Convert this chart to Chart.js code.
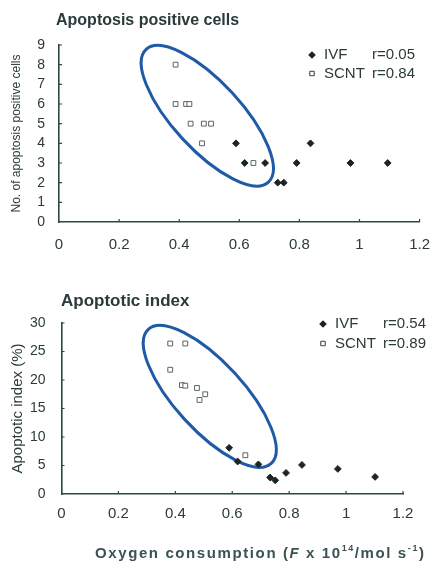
<!DOCTYPE html>
<html>
<head>
<meta charset="utf-8">
<script src="https://cdn.jsdelivr.net/npm/chart.js@4.4.1/dist/chart.umd.min.js"></script>
<style>
  html, body { margin: 0; padding: 0; background: #fff; }
  #wrap { position: relative; width: 436px; height: 565px; overflow: hidden; }
  canvas { position: absolute; left: 0; }
  #cellsChart { top: 0; width: 436px; height: 262px; }
  #indexChart { top: 262px; width: 436px; height: 303px; }
</style>
</head>
<body>
<div id="wrap">
  <canvas id="cellsChart" width="436" height="262"></canvas>
  <canvas id="indexChart" width="436" height="303"></canvas>
</div>
<script>
  // Values (x = oxygen consumption).
  var xTicks = [0, 0.2, 0.4, 0.6, 0.8, 1, 1.2];
  var cellsTicks = [0, 1, 2, 3, 4, 5, 6, 7, 8, 9];
  var indexTicks = [0, 5, 10, 15, 20, 25, 30];
  var seriesNames = ['IVF', 'SCNT'];

  // Apoptosis positive cells
  var cellsIvfX = [0.589, 0.618, 0.686, 0.728, 0.748, 0.791, 0.837, 0.970, 1.094];
  var cellsIvfY = [4, 3, 3, 2, 2, 3, 4, 3, 3];
  var cellsScntX = [0.388, 0.388, 0.423, 0.434, 0.438, 0.482, 0.506, 0.476, 0.647];
  var cellsScntY = [8, 6, 6, 6, 5, 5, 5, 4, 3];
  var cellsR = ['r=0.05', 'r=0.84'];

  // Apoptotic index (%)
  var indexIvfX = [0.589, 0.619, 0.692, 0.733, 0.751, 0.789, 0.845, 0.971, 1.102];
  var indexIvfY = [8.1, 5.7, 5.2, 2.9, 2.4, 3.7, 5.1, 4.4, 3.0];
  var indexScntX = [0.382, 0.435, 0.382, 0.423, 0.435, 0.476, 0.505, 0.485, 0.646];
  var indexScntY = [26.4, 26.4, 21.8, 19.1, 19.0, 18.6, 17.5, 16.5, 6.8];
  var indexR = ['r=0.54', 'r=0.89'];

  // Ellipse round the SCNT group: ends of the long axis in data units.
  var cellsEllipseX = [0.290, 0.697];
  var cellsEllipseY = [8.78, 2.03];
  var indexEllipseX = [0.305, 0.737];
  var indexEllipseY = [28.9, 5.37];

  var FONT = "'Liberation Sans', Arial, sans-serif";
  var INK = '#2b3a3a';
  var AXIS = '#2f4646';
  var RING = '#1f5aa6';

  function pairs(xs, ys) {
    return xs.map(function (x, i) { return { x: x, y: ys[i] }; });
  }

  var decorPlugin = {
    id: 'decor',
    beforeDatasetsDraw: function (chart, args, opts) {
      var ctx = chart.ctx, xs = chart.scales.x, ys = chart.scales.y;
      var x1 = xs.getPixelForValue(opts.ellipseX[0]), y1 = ys.getPixelForValue(opts.ellipseY[0]);
      var x2 = xs.getPixelForValue(opts.ellipseX[1]), y2 = ys.getPixelForValue(opts.ellipseY[1]);
      var a = Math.hypot(x2 - x1, y2 - y1) / 2;
      ctx.save();
      ctx.beginPath();
      ctx.ellipse((x1 + x2) / 2, (y1 + y2) / 2, a, a * opts.ratio, Math.atan2(y2 - y1, x2 - x1), 0, Math.PI * 2);
      ctx.strokeStyle = RING;
      ctx.lineWidth = 3;
      ctx.stroke();
      ctx.restore();
    },
    afterDraw: function (chart, args, opts) {
      var ctx = chart.ctx, xs = chart.scales.x, ys = chart.scales.y, area = chart.chartArea;
      ctx.save();

      // inward tick marks
      ctx.strokeStyle = AXIS;
      ctx.lineWidth = 1.2;
      ctx.beginPath();
      xs.ticks.forEach(function (t) {
        if (t.value === 0) return;
        var px = xs.getPixelForValue(t.value);
        ctx.moveTo(px, area.bottom);
        ctx.lineTo(px, area.bottom - 3);
      });
      ys.ticks.forEach(function (t) {
        if (t.value === 0) return;
        var py = ys.getPixelForValue(t.value);
        ctx.moveTo(area.left, py);
        ctx.lineTo(area.left + 3, py);
      });
      ctx.stroke();

      // panel title
      ctx.fillStyle = INK;
      ctx.textBaseline = 'middle';
      ctx.textAlign = 'left';
      ctx.font = opts.titleFont;
      ctx.fillText(opts.title, opts.titleX, opts.titleY);

      // legend
      ctx.font = '15px ' + FONT;
      chart.data.datasets.forEach(function (ds, i) {
        var ly = opts.legendY + i * opts.legendGap;
        Chart.helpers.drawPoint(ctx, {
          pointStyle: ds.pointStyle,
          radius: ds.pointRadius - 0.4,
          borderWidth: ds.borderWidth
        }, opts.legendX, ly);
        ctx.fillStyle = ds.backgroundColor;
        ctx.strokeStyle = ds.borderColor;
        ctx.lineWidth = ds.borderWidth;
        ctx.fill();
        ctx.stroke();
        ctx.fillStyle = INK;
        ctx.textAlign = 'left';
        ctx.fillText(ds.label, opts.legendX + 12, ly);
        ctx.textAlign = 'right';
        ctx.fillText(opts.rValues[i], opts.rRight, ly);
      });

      // x axis title with italic F and superscripts
      if (opts.xTitle) {
        var x = opts.xTitle.x;
        ctx.textAlign = 'left';
        ctx.fillStyle = '#3a5252';
        ctx.letterSpacing = '1.6px';
        opts.xTitle.parts.forEach(function (p) {
          ctx.font = p.font;
          ctx.fillText(p.text, x, opts.xTitle.y + (p.sup ? -5 : 0));
          x += ctx.measureText(p.text).width;
        });
      }
      ctx.restore();
    }
  };

  function makeChart(id, cfg) {
    return new Chart(document.getElementById(id).getContext('2d'), {
      type: 'scatter',
      data: {
        datasets: [{
          label: seriesNames[0],
          data: pairs(cfg.ivfX, cfg.ivfY),
          pointStyle: 'rectRot',
          pointRadius: 3.4,
          backgroundColor: '#1c2424',
          borderColor: '#1c2424',
          borderWidth: 1
        }, {
          label: seriesNames[1],
          data: pairs(cfg.scntX, cfg.scntY),
          pointStyle: 'rect',
          pointRadius: 3.4,
          backgroundColor: '#ffffff',
          borderColor: '#5a6464',
          borderWidth: 1
        }]
      },
      options: {
        responsive: false,
        animation: false,
        events: [],
        layout: { padding: cfg.padding },
        plugins: {
          legend: { display: false },
          tooltip: { enabled: false },
          decor: cfg.decor
        },
        scales: {
          x: {
            type: 'linear',
            min: 0,
            max: 1.2,
            afterBuildTicks: function (s) { s.ticks = xTicks.map(function (v) { return { value: v }; }); },
            afterFit: function (s) { s.height = cfg.xHeight; },
            grid: { display: false },
            border: { display: true, color: AXIS, width: 1.6 },
            ticks: {
              autoSkip: false,
              maxRotation: 0,
              color: INK,
              padding: cfg.xPad,
              font: { family: FONT, size: 15 },
              callback: function (val) { return String(val); }
            }
          },
          y: {
            type: 'linear',
            min: 0,
            max: cfg.yTicks[cfg.yTicks.length - 1],
            afterBuildTicks: function (s) { s.ticks = cfg.yTicks.map(function (v) { return { value: v }; }); },
            afterFit: function (s) { s.width = cfg.yWidth; },
            grid: { display: false },
            border: { display: true, color: AXIS, width: 1.6 },
            ticks: {
              autoSkip: false,
              color: INK,
              padding: cfg.yPad,
              font: { family: FONT, size: 14 },
              callback: function (val) { return String(val); }
            },
            title: {
              display: true,
              text: cfg.yTitle,
              color: INK,
              padding: { top: cfg.yTitlePad, bottom: 0 },
              font: { family: FONT, size: cfg.yTitleSize }
            }
          }
        }
      },
      plugins: [decorPlugin]
    });
  }

  makeChart('cellsChart', {
    ivfX: cellsIvfX, ivfY: cellsIvfY, scntX: cellsScntX, scntY: cellsScntY,
    yTicks: cellsTicks,
    yTitle: 'No. of apoptosis positive cells',
    yTitleSize: 12,
    yTitlePad: 9,
    padding: { left: 0, right: 16, top: 45, bottom: 0 },
    xHeight: 40,
    yWidth: 59,
    xPad: 6,
    yPad: 6,
    decor: {
      title: 'Apoptosis positive cells',
      titleFont: 'bold 16px ' + FONT,
      titleX: 56, titleY: 21,
      legendX: 312, legendY: 55, legendGap: 18.5,
      rValues: cellsR, rRight: 415,
      ellipseX: cellsEllipseX, ellipseY: cellsEllipseY, ratio: 0.375
    }
  });

  makeChart('indexChart', {
    ivfX: indexIvfX, ivfY: indexIvfY, scntX: indexScntX, scntY: indexScntY,
    yTicks: indexTicks,
    yTitle: 'Apoptotic index (%)',
    yTitleSize: 15,
    yTitlePad: 9,
    padding: { left: 0, right: 33, top: 61, bottom: 0 },
    xHeight: 71,
    yWidth: 61.5,
    xPad: 3,
    yPad: 8,
    decor: {
      title: 'Apoptotic index',
      titleFont: 'bold 17px ' + FONT,
      titleX: 61, titleY: 39,
      legendX: 323, legendY: 62, legendGap: 19.5,
      rValues: indexR, rRight: 426,
      ellipseX: indexEllipseX, ellipseY: indexEllipseY, ratio: 0.375,
      xTitle: {
        x: 95, y: 292,
        parts: [
          { text: 'Oxygen consumption (', font: 'bold 15px ' + FONT },
          { text: 'F', font: 'italic bold 15px ' + FONT },
          { text: ' x 10', font: 'bold 15px ' + FONT },
          { text: '14', font: 'bold 9px ' + FONT, sup: true },
          { text: '/mol s', font: 'bold 15px ' + FONT },
          { text: '-1', font: 'bold 9px ' + FONT, sup: true },
          { text: ')', font: 'bold 15px ' + FONT }
        ]
      }
    }
  });
</script>
</body>
</html>
